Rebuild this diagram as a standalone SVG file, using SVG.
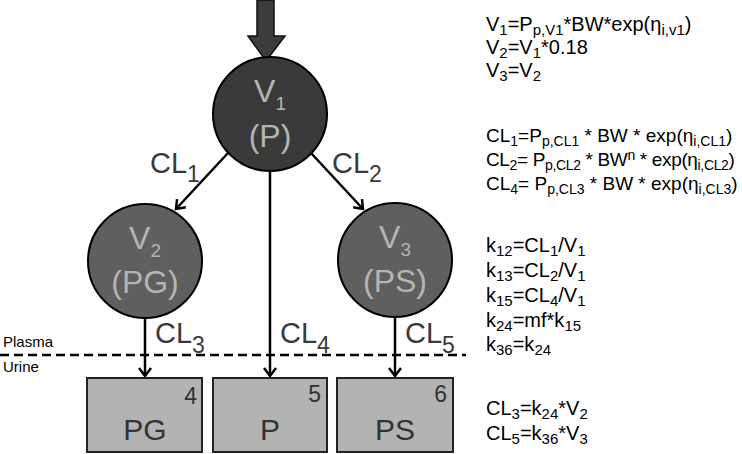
<svg xmlns="http://www.w3.org/2000/svg" width="742" height="454" viewBox="0 0 742 454">
<defs>
<style>
text{font-family:"Liberation Sans",Arial,sans-serif}
.eq{font-size:20px;fill:#000}
.s{font-size:15px}
.eq2{font-size:19px;fill:#000}
.s2{font-size:14px}
.ct{font-size:32px;fill:#b4b4b4;text-anchor:middle}
.cs{font-size:19px}
.cl{font-size:29px;fill:#3a3a3a}
.cls{font-size:23px}
.bt{font-size:30px;fill:#333;text-anchor:middle}
.bn{font-size:23px;fill:#333;text-anchor:end}
.lbl{font-size:15px;fill:#000}
.box{fill:#b3b3b3;stroke:#222;stroke-width:2}
.con{stroke:#000;stroke-width:2.5;fill:none}
</style>
<marker id="ah" markerUnits="userSpaceOnUse" markerWidth="20" markerHeight="20" refX="0" refY="0" viewBox="-12 -10 14 20" orient="auto">
<path d="M-8,-6 L0,0 L-8,6" fill="none" stroke="#000" stroke-width="2.5"/>
</marker>
</defs>
<g id="input">
<path d="M257,0 L274,0 L274,36 L285,36 L266,61 L248,36 L257,36 Z" fill="#3c3c3c" stroke="#111" stroke-width="1.5"/>
</g>
<g id="connectors">
<line class="con" x1="228" y1="153" x2="176" y2="209" marker-end="url(#ah)"/>
<line class="con" x1="311" y1="153" x2="363" y2="209" marker-end="url(#ah)"/>
<line class="con" x1="270" y1="171" x2="270" y2="376" marker-end="url(#ah)"/>
<line class="con" x1="145" y1="318" x2="145" y2="376" marker-end="url(#ah)"/>
<line class="con" x1="395" y1="317" x2="395" y2="376" marker-end="url(#ah)"/>
<line x1="0" y1="355" x2="466" y2="355" stroke="#000" stroke-width="2.5" stroke-dasharray="9 5"/>
</g>
<g id="V1">
<circle cx="270" cy="114" r="57" fill="#3a3a3a" stroke="#000" stroke-width="2"/>
<text class="ct" x="270" y="102">V<tspan class="cs" dy="8">1</tspan></text>
<text class="ct" x="270" y="147">(P)</text>
</g>
<g id="V2">
<circle cx="145" cy="261" r="57" fill="#5f5f5f" stroke="#000" stroke-width="2"/>
<text class="ct" x="145" y="249">V<tspan class="cs" dy="8">2</tspan></text>
<text class="ct" x="145" y="293">(PG)</text>
</g>
<g id="V3">
<circle cx="395" cy="260" r="57" fill="#5f5f5f" stroke="#000" stroke-width="2"/>
<text class="ct" x="395" y="248">V<tspan class="cs" dy="8">3</tspan></text>
<text class="ct" x="395" y="292">(PS)</text>
</g>
<g id="labels">
<text class="cl" x="150" y="173">CL<tspan class="cls" dy="9">1</tspan></text>
<text class="cl" x="332" y="173">CL<tspan class="cls" dy="9">2</tspan></text>
<text class="cl" x="155" y="343">CL<tspan class="cls" dy="10">3</tspan></text>
<text class="cl" x="280" y="343">CL<tspan class="cls" dy="10">4</tspan></text>
<text class="cl" x="405" y="343">CL<tspan class="cls" dy="10">5</tspan></text>
<text class="lbl" x="3" y="347">Plasma</text>
<text class="lbl" x="3" y="372">Urine</text>
</g>
<g id="PG">
<rect class="box" x="87" y="378" width="115" height="74"/>
<text class="bt" x="145" y="440">PG</text>
<text class="bn" x="197" y="404">4</text>
</g>
<g id="P">
<rect class="box" x="213" y="378" width="114" height="74"/>
<text class="bt" x="270" y="440">P</text>
<text class="bn" x="321" y="402">5</text>
</g>
<g id="PS">
<rect class="box" x="337" y="378" width="116" height="74"/>
<text class="bt" x="395" y="440">PS</text>
<text class="bn" x="447" y="402">6</text>
</g>
<g id="equations">
<text class="eq" x="486" y="31">V<tspan class="s" dy="4">1</tspan><tspan dy="-4">=P</tspan><tspan class="s" dy="4">p,V1</tspan><tspan dy="-4">*BW*exp(η</tspan><tspan class="s" dy="4">i,v1</tspan><tspan dy="-4">)</tspan></text>
<text class="eq" x="486" y="54">V<tspan class="s" dy="4">2</tspan><tspan dy="-4">=V</tspan><tspan class="s" dy="4">1</tspan><tspan dy="-4">*0.18</tspan></text>
<text class="eq" x="486" y="77">V<tspan class="s" dy="4">3</tspan><tspan dy="-4">=V</tspan><tspan class="s" dy="4">2</tspan></text>
<text class="eq2" x="486" y="142">CL<tspan class="s2" dy="4">1</tspan><tspan dy="-4">=P</tspan><tspan class="s2" dy="4">p,CL1</tspan><tspan dy="-4"> * BW * exp(η</tspan><tspan class="s2" dy="4">i,CL1</tspan><tspan dy="-4">)</tspan></text>
<text class="eq2" x="486" y="166" style="letter-spacing:-0.35px">CL<tspan class="s2" dy="4">2</tspan><tspan dy="-4">= P</tspan><tspan class="s2" dy="4">p,CL2</tspan><tspan dy="-4"> * BW</tspan><tspan class="s2" dy="-6">n</tspan><tspan dy="6"> * exp(η</tspan><tspan class="s2" dy="4">i,CL2</tspan><tspan dy="-4">)</tspan></text>
<text class="eq2" x="486" y="190">CL<tspan class="s2" dy="4">4</tspan><tspan dy="-4">= P</tspan><tspan class="s2" dy="4">p,CL3</tspan><tspan dy="-4"> * BW * exp(η</tspan><tspan class="s2" dy="4">i,CL3</tspan><tspan dy="-4">)</tspan></text>
<text class="eq" x="486" y="252">k<tspan class="s" dy="4">12</tspan><tspan dy="-4">=CL</tspan><tspan class="s" dy="4">1</tspan><tspan dy="-4">/V</tspan><tspan class="s" dy="4">1</tspan></text>
<text class="eq" x="486" y="277">k<tspan class="s" dy="4">13</tspan><tspan dy="-4">=CL</tspan><tspan class="s" dy="4">2</tspan><tspan dy="-4">/V</tspan><tspan class="s" dy="4">1</tspan></text>
<text class="eq" x="486" y="302">k<tspan class="s" dy="4">15</tspan><tspan dy="-4">=CL</tspan><tspan class="s" dy="4">4</tspan><tspan dy="-4">/V</tspan><tspan class="s" dy="4">1</tspan></text>
<text class="eq" x="486" y="327">k<tspan class="s" dy="4">24</tspan><tspan dy="-4">=mf*k</tspan><tspan class="s" dy="4">15</tspan></text>
<text class="eq" x="486" y="351">k<tspan class="s" dy="4">36</tspan><tspan dy="-4">=k</tspan><tspan class="s" dy="4">24</tspan></text>
<text class="eq" x="486" y="415">CL<tspan class="s" dy="4">3</tspan><tspan dy="-4">=k</tspan><tspan class="s" dy="4">24</tspan><tspan dy="-4">*V</tspan><tspan class="s" dy="4">2</tspan></text>
<text class="eq" x="486" y="440">CL<tspan class="s" dy="4">5</tspan><tspan dy="-4">=k</tspan><tspan class="s" dy="4">36</tspan><tspan dy="-4">*V</tspan><tspan class="s" dy="4">3</tspan></text>
</g>
</svg>
